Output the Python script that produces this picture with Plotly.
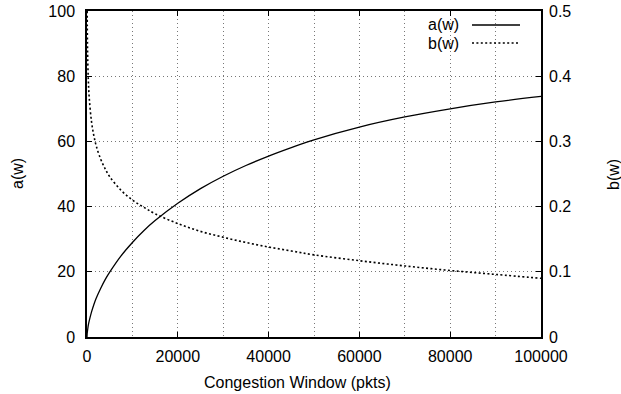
import plotly.graph_objects as go

# Values
w_a = [0, 38, 60, 100, 150, 300, 500, 1000, 1500, 2000, 3000, 4000, 5000, 7500,
       10000, 12500, 15000, 20000, 25000, 30000, 35000, 40000, 45000, 50000,
       60000, 70000, 80000, 90000, 100000]
a_vals = [0, 1.0, 1.3, 1.8, 2.3, 3.7, 5.0, 7.7, 9.9, 11.8, 14.9, 17.6, 19.9, 24.9,
          29.0, 32.6, 35.7, 41.0, 45.5, 49.3, 52.6, 55.5, 58.1, 60.5,
          64.4, 67.5, 70.0, 72.1, 73.8]

w_b = [38, 60, 100, 150, 300, 500, 1000, 1500, 2000, 3000, 4000, 5000, 7500,
       10000, 12500, 15000, 20000, 25000, 30000, 35000, 40000, 45000, 50000,
       60000, 70000, 80000, 90000, 100000]
b_vals = [0.500, 0.476, 0.450, 0.429, 0.393, 0.366, 0.330, 0.309, 0.294, 0.273,
          0.258, 0.246, 0.225, 0.210, 0.199, 0.189, 0.174, 0.162, 0.153, 0.145,
          0.138, 0.132, 0.126, 0.117, 0.109, 0.102, 0.096, 0.090]

x_ticks = [0, 20000, 40000, 60000, 80000, 100000]
ya_ticks = [0, 20, 40, 60, 80, 100]
yb_ticks = [0, 0.1, 0.2, 0.3, 0.4, 0.5]

FONT = "Liberation Sans"
FS = 16

W, H = 621, 394
L, T = 87, 11
PW, PH = 454, 326
R, B = W - L - PW, H - T - PH

def px(xs):  # screen x -> paper x
    return (xs - L) / PW

def py(ys):  # screen y -> paper y
    return (T + PH - ys) / PH

fig = go.Figure()
fig.add_trace(go.Scatter(x=w_a, y=a_vals, mode="lines", name="a(w)",
                         line=dict(color="black", width=1.3, shape="spline"),
                         showlegend=False))
fig.add_trace(go.Scatter(x=w_b, y=b_vals, mode="lines", name="b(w)", yaxis="y2",
                         line=dict(color="black", width=1.6, dash="2px,2.4px", shape="spline"),
                         showlegend=False))

# legend box (opaque key)
fig.add_shape(type="rect", xref="paper", yref="paper",
              x0=px(418), x1=px(527), y0=py(51), y1=py(19),
              fillcolor="white", line=dict(width=0), layer="between")
for i, (lab, dash, wd) in enumerate([("a(w)", "solid", 1.3), ("b(w)", "2px,2.4px", 1.6)]):
    yp = py(25 + 18 * i)
    fig.add_annotation(text=lab, xref="paper", yref="paper", x=px(461), y=yp,
                       xanchor="right", yanchor="middle", showarrow=False,
                       font=dict(family=FONT, size=FS, color="black"))
    fig.add_shape(type="line", xref="paper", yref="paper",
                  x0=px(472), x1=px(520), y0=yp, y1=yp,
                  line=dict(color="black", width=wd, dash=dash))

# axis titles
fig.add_annotation(text="Congestion Window (pkts)", xref="paper", yref="paper",
                   x=px(297), y=py(382), xanchor="center", yanchor="middle",
                   showarrow=False, font=dict(family=FONT, size=FS, color="black"))
fig.add_annotation(text="a(w)", xref="paper", yref="paper", x=px(17), y=py(174),
                   xanchor="center", yanchor="middle", textangle=-90,
                   showarrow=False, font=dict(family=FONT, size=FS, color="black"))
fig.add_annotation(text="b(w)", xref="paper", yref="paper", x=px(613), y=py(175),
                   xanchor="center", yanchor="middle", textangle=-90,
                   showarrow=False, font=dict(family=FONT, size=FS, color="black"))

GC = "#777777"
GD = "1.2px,2.8px"
fig.update_layout(
    width=W, height=H,
    margin=dict(l=L, r=R, t=T, b=B, autoexpand=False),
    paper_bgcolor="white", plot_bgcolor="white",
    font=dict(family=FONT, size=FS, color="black"),
    xaxis=dict(range=[0, 100000], tickvals=x_ticks, ticktext=[str(v) for v in x_ticks],
               ticks="inside", ticklen=5, tickcolor="black", tickwidth=1.2,
               showline=True, linecolor="black", linewidth=1.5, mirror="ticks",
               zeroline=False, automargin=False, ticklabelstandoff=4,
               showgrid=True, gridcolor=GC, griddash=GD, gridwidth=1,
               minor=dict(dtick=10000, showgrid=True, gridcolor=GC, griddash=GD, gridwidth=1)),
    yaxis=dict(range=[0, 100], tickvals=ya_ticks, ticks="inside", ticklen=5,
               tickcolor="black", tickwidth=1.2, showline=True, linecolor="black",
               linewidth=1.5, mirror=True, zeroline=False, automargin=False,
               ticklabelstandoff=7,
               showgrid=True, gridcolor=GC, griddash=GD, gridwidth=1),
    yaxis2=dict(range=[0, 0.5], tickvals=yb_ticks,
                ticktext=["0", "0.1", "0.2", "0.3", "0.4", "0.5"],
                overlaying="y", side="right", ticks="inside", ticklen=5,
                tickcolor="black", tickwidth=1.2, automargin=False,
                ticklabelstandoff=7,
                showgrid=False, zeroline=False, showline=False),
)
fig.write_html("out.html", config={"displayModeBar": False},
               post_script="document.body.style.margin='0';document.body.style.overflow='hidden';")
